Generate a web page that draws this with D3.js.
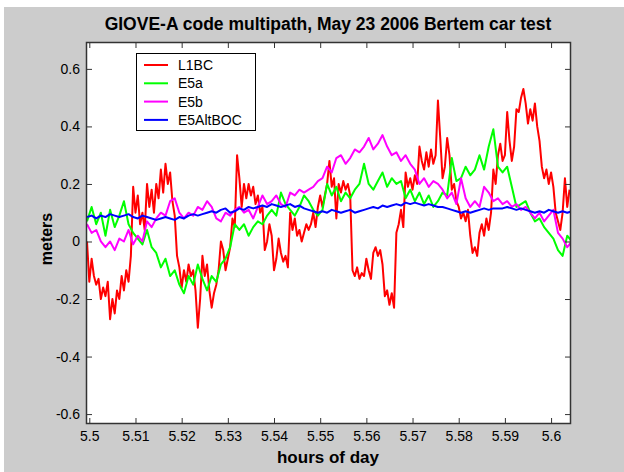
<!DOCTYPE html>
<html><head><meta charset="utf-8">
<script src="https://cdn.jsdelivr.net/npm/d3@7"></script>
<style>
body{margin:0;background:#fff}
svg{display:block}
text{font-family:"Liberation Sans",Arial,Helvetica,sans-serif;fill:#000}
</style>
</head><body>
<svg id="chart" width="624" height="472"></svg>
<script>
// ---------- data ----------
const titleText = "GIOVE-A code multipath, May 23 2006 Bertem car test";
const xLabelText = "hours of day";
const yLabelText = "meters";
const seriesNames = ["L1BC", "E5a", "E5b", "E5AltBOC"];
const seriesColors = ["#ff0000", "#00ff00", "#ff00ff", "#0000ff"];
const xTicks = [5.5, 5.51, 5.52, 5.53, 5.54, 5.55, 5.56, 5.57, 5.58, 5.59, 5.6];
const yTicks = [-0.6, -0.4, -0.2, 0, 0.2, 0.4, 0.6];
const xDomain = [5.4995, 5.6041];
const yDomain = [-0.631, 0.690];

// L1BC sampled every 0.0005 h starting at 5.4995
const l1bcStart = 5.4995, l1bcStep = 0.0005;
const l1bc = [
  0.0, -0.14, -0.06, -0.12, -0.15, -0.13, -0.2, -0.16, -0.19, -0.14,
  -0.27, -0.2, -0.25, -0.17, -0.2, -0.12, -0.17, -0.1, -0.14, -0.05,
  0.19, 0.1, 0.16, 0.06, 0.1, 0.04, 0.2, 0.12, 0.18, 0.1,
  0.2, 0.15, 0.25, 0.17, 0.27, 0.2, 0.24, 0.14, 0.09, -0.05,
  -0.09, -0.16, -0.1, -0.14, -0.08, -0.12, -0.1, -0.17, -0.3, -0.2,
  -0.05, -0.12, -0.08, -0.17, -0.23, -0.18, -0.15, -0.1, 0.0, -0.03,
  -0.1, -0.06, -0.02, 0.08, 0.05, 0.3, 0.22, 0.12, 0.2, 0.15,
  0.2, 0.16, 0.19, 0.13, 0.16, 0.1, 0.12, -0.03, 0.0, 0.06,
  0.02, -0.1, -0.06, 0.01, -0.04, -0.07, -0.05, -0.09, 0.1, 0.04,
  0.08, 0.02, 0.04, 0.0, 0.03, 0.06, 0.04, 0.06, 0.1, 0.05,
  0.12, 0.16, 0.12, 0.16, 0.2, 0.28, 0.19, 0.22, 0.08, 0.2,
  0.17, 0.21, 0.18, 0.2, 0.16, -0.1, -0.12, -0.09, -0.13, -0.11,
  -0.12, -0.06, -0.1, -0.13, -0.04, -0.02, -0.05, -0.03, -0.08, -0.19,
  -0.17, -0.22, -0.18, -0.23, 0.03, 0.06, 0.11, 0.05, 0.24, 0.19,
  0.22, 0.18, 0.23, 0.2, 0.33, 0.28, 0.25, 0.31, 0.26, 0.32,
  0.27, 0.3, 0.49, 0.36, 0.22, 0.26, 0.36, 0.3, 0.18, 0.2,
  0.14, 0.12, 0.08, 0.1, 0.07, 0.11, 0.02, -0.04, -0.02, -0.05,
  0.03, 0.06, 0.02, 0.08, 0.04, 0.1, 0.25, 0.2, 0.3, 0.34,
  0.28, 0.3, 0.45, 0.35, 0.28, 0.33, 0.46, 0.45, 0.5, 0.53,
  0.48, 0.41, 0.46, 0.42, 0.48, 0.4, 0.35, 0.26, 0.22, 0.25,
  0.2, 0.24, 0.19, 0.1, 0.07, 0.04, 0.1, 0.22, 0.12, 0.18
];

// E5 signals sampled every 0.001 h starting at 5.4995
const e5Start = 5.4995, e5Step = 0.001;
const e5a = [
  0.07, 0.12, 0.06, 0.1, 0.02, 0.11, 0.05, 0.09, 0.14, 0.06,
  0.03, 0.01, -0.01, 0.04, -0.02, -0.04, -0.09, -0.06, -0.12, -0.1,
  -0.15, -0.18, -0.12, -0.15, -0.08, -0.13, -0.17, -0.12, -0.14, -0.08,
  -0.06, -0.02, 0.06, 0.04, 0.06, 0.02, 0.05, 0.07, 0.06, 0.09,
  0.11, 0.09, 0.17, 0.13, 0.11, 0.09, 0.12, 0.16, 0.14, 0.11,
  0.09, 0.11, 0.2, 0.16, 0.19, 0.14, 0.17, 0.15, 0.18, 0.2,
  0.27, 0.2, 0.18, 0.21, 0.24, 0.19, 0.22, 0.2, 0.21, 0.15,
  0.18, 0.14, 0.17, 0.13, 0.16, 0.12, 0.14, 0.17, 0.16, 0.29,
  0.21, 0.22, 0.26, 0.23, 0.25, 0.3, 0.25, 0.33, 0.39, 0.26,
  0.24, 0.26, 0.19, 0.12, 0.13, 0.14, 0.1, 0.07, 0.08, 0.05,
  0.03, 0.01, -0.03, -0.05, 0.02, 0.0
];
const e5b = [
  0.06, 0.03, 0.04, 0.0, -0.02, 0.0, -0.03, 0.01, 0.0, 0.04,
  -0.01, 0.02, 0.0, 0.07, 0.05, 0.08, 0.1, 0.09, 0.14, 0.15,
  0.1, 0.08, 0.1, 0.09, 0.12, 0.11, 0.14, 0.12, 0.08, 0.07,
  0.1, 0.09, 0.11, 0.12, 0.1, 0.11, 0.08, 0.12, 0.16, 0.13,
  0.14, 0.16, 0.13, 0.12, 0.17, 0.16, 0.18, 0.17, 0.18, 0.19,
  0.21, 0.22, 0.26, 0.24, 0.29, 0.3, 0.27, 0.29, 0.32, 0.31,
  0.33, 0.36, 0.32, 0.34, 0.37, 0.33, 0.3, 0.31, 0.28, 0.3,
  0.27, 0.25, 0.2, 0.22, 0.19, 0.21, 0.2, 0.18, 0.15, 0.17,
  0.13, 0.22, 0.15, 0.12, 0.14, 0.12, 0.19, 0.17, 0.14, 0.15,
  0.13, 0.14, 0.12, 0.13, 0.11, 0.12, 0.1, 0.08, 0.1, 0.07,
  0.09, 0.11, 0.03, 0.01, -0.02, 0.0
];
const e5altboc = [
  0.085, 0.09, 0.08, 0.09, 0.085, 0.095, 0.09, 0.085, 0.09, 0.095,
  0.085, 0.08, 0.09, 0.085, 0.08, 0.075, 0.08, 0.085, 0.08, 0.075,
  0.085, 0.08, 0.09, 0.095, 0.09, 0.095, 0.1, 0.105, 0.1, 0.11,
  0.115, 0.1, 0.105, 0.115, 0.11, 0.12, 0.115, 0.12, 0.125, 0.12,
  0.13, 0.125, 0.12, 0.125, 0.13, 0.12, 0.125, 0.115, 0.11, 0.105,
  0.1, 0.105, 0.1, 0.11, 0.105, 0.1, 0.105, 0.11, 0.1, 0.105,
  0.11, 0.115, 0.12, 0.115, 0.125, 0.12, 0.125, 0.13, 0.125, 0.135,
  0.13, 0.135, 0.13, 0.125, 0.13, 0.125, 0.12, 0.12, 0.115, 0.11,
  0.105, 0.1, 0.105, 0.1, 0.105, 0.11, 0.115, 0.11, 0.115, 0.115,
  0.115, 0.12, 0.115, 0.11, 0.115, 0.11, 0.105, 0.1, 0.105, 0.1,
  0.11, 0.105, 0.1, 0.105, 0.1, 0.105
];

// ---------- layout ----------
const W = 624, H = 472;
const plot = {left: 87, right: 570, top: 43, bottom: 423};
const svg = d3.select("#chart");

svg.append("rect").attr("x", 4).attr("y", 7).attr("width", W - 4).attr("height", H - 7).attr("fill", "#cccccc");
svg.append("rect").attr("x", plot.left).attr("y", plot.top)
  .attr("width", plot.right - plot.left).attr("height", plot.bottom - plot.top).attr("fill", "#ffffff");

const x = d3.scaleLinear().domain(xDomain).range([plot.left, plot.right]);
const y = d3.scaleLinear().domain(yDomain).range([plot.bottom, plot.top]);
const fmt = d => String(Math.round(d * 100) / 100);

svg.append("defs").append("clipPath").attr("id", "clip").append("rect")
  .attr("x", plot.left).attr("y", plot.top).attr("width", plot.right - plot.left).attr("height", plot.bottom - plot.top);

// series
const series = [
  {values: l1bc, start: l1bcStart, step: l1bcStep},
  {values: e5a, start: e5Start, step: e5Step},
  {values: e5b, start: e5Start, step: e5Step},
  {values: e5altboc, start: e5Start, step: e5Step}
];
const g = svg.append("g").attr("clip-path", "url(#clip)");
series.forEach((s, i) => {
  const line = d3.line().x((d, j) => x(s.start + j * s.step)).y(d => y(d));
  g.append("path").datum(s.values).attr("d", line)
    .attr("fill", "none").attr("stroke", seriesColors[i]).attr("stroke-width", 2)
    .attr("stroke-linejoin", "round");
});

// axes
const axisColor = "#333";
function styleAxis(sel, showText) {
  sel.select(".domain").remove();
  sel.selectAll(".tick line").attr("stroke", axisColor).attr("stroke-width", 1);
  sel.selectAll(".tick text").style("font-size", "14px").attr("fill", "#000");
  if (!showText) sel.selectAll(".tick text").remove();
}
svg.append("g").attr("transform", `translate(0,${plot.bottom})`)
  .call(d3.axisBottom(x).tickValues(xTicks).tickFormat(fmt).tickSizeInner(-5).tickSizeOuter(0).tickPadding(8))
  .call(s => styleAxis(s, true));
svg.append("g").attr("transform", `translate(0,${plot.top})`)
  .call(d3.axisTop(x).tickValues(xTicks).tickSizeInner(-5).tickSizeOuter(0))
  .call(s => styleAxis(s, false));
svg.append("g").attr("transform", `translate(${plot.left},0)`)
  .call(d3.axisLeft(y).tickValues(yTicks).tickFormat(fmt).tickSizeInner(-5).tickSizeOuter(0).tickPadding(7))
  .call(s => styleAxis(s, true));
svg.append("g").attr("transform", `translate(${plot.right},0)`)
  .call(d3.axisRight(y).tickValues(yTicks).tickSizeInner(-5).tickSizeOuter(0))
  .call(s => styleAxis(s, false));

svg.append("rect").attr("x", plot.left - 0.5).attr("y", plot.top - 0.5)
  .attr("width", plot.right - plot.left + 1).attr("height", plot.bottom - plot.top + 1)
  .attr("fill", "none").attr("stroke", axisColor).attr("stroke-width", 1.5);

// legend
const lg = svg.append("g");
lg.append("rect").attr("x", 136.5).attr("y", 53.5).attr("width", 119).attr("height", 77)
  .attr("fill", "#fff").attr("stroke", "#000").attr("stroke-width", 1);
seriesNames.forEach((name, i) => {
  const yy = 65 + i * 18.3;
  lg.append("line").attr("x1", 144).attr("x2", 168).attr("y1", yy).attr("y2", yy)
    .attr("stroke", seriesColors[i]).attr("stroke-width", 2);
  lg.append("text").attr("x", 178).attr("y", yy).attr("dy", "0.36em")
    .style("font-size", "14px").text(name);
});

// titles
svg.append("text").attr("x", 328).attr("y", 30).attr("text-anchor", "middle")
  .style("font-size", "17.5px").style("font-weight", "bold").text(titleText);
svg.append("text").attr("x", 328).attr("y", 463).attr("text-anchor", "middle")
  .style("font-size", "17px").style("font-weight", "bold").text(xLabelText);
svg.append("text").attr("transform", "translate(52,239) rotate(-90)").attr("text-anchor", "middle")
  .style("font-size", "16px").style("font-weight", "bold").text(yLabelText);
</script>
</body></html>
